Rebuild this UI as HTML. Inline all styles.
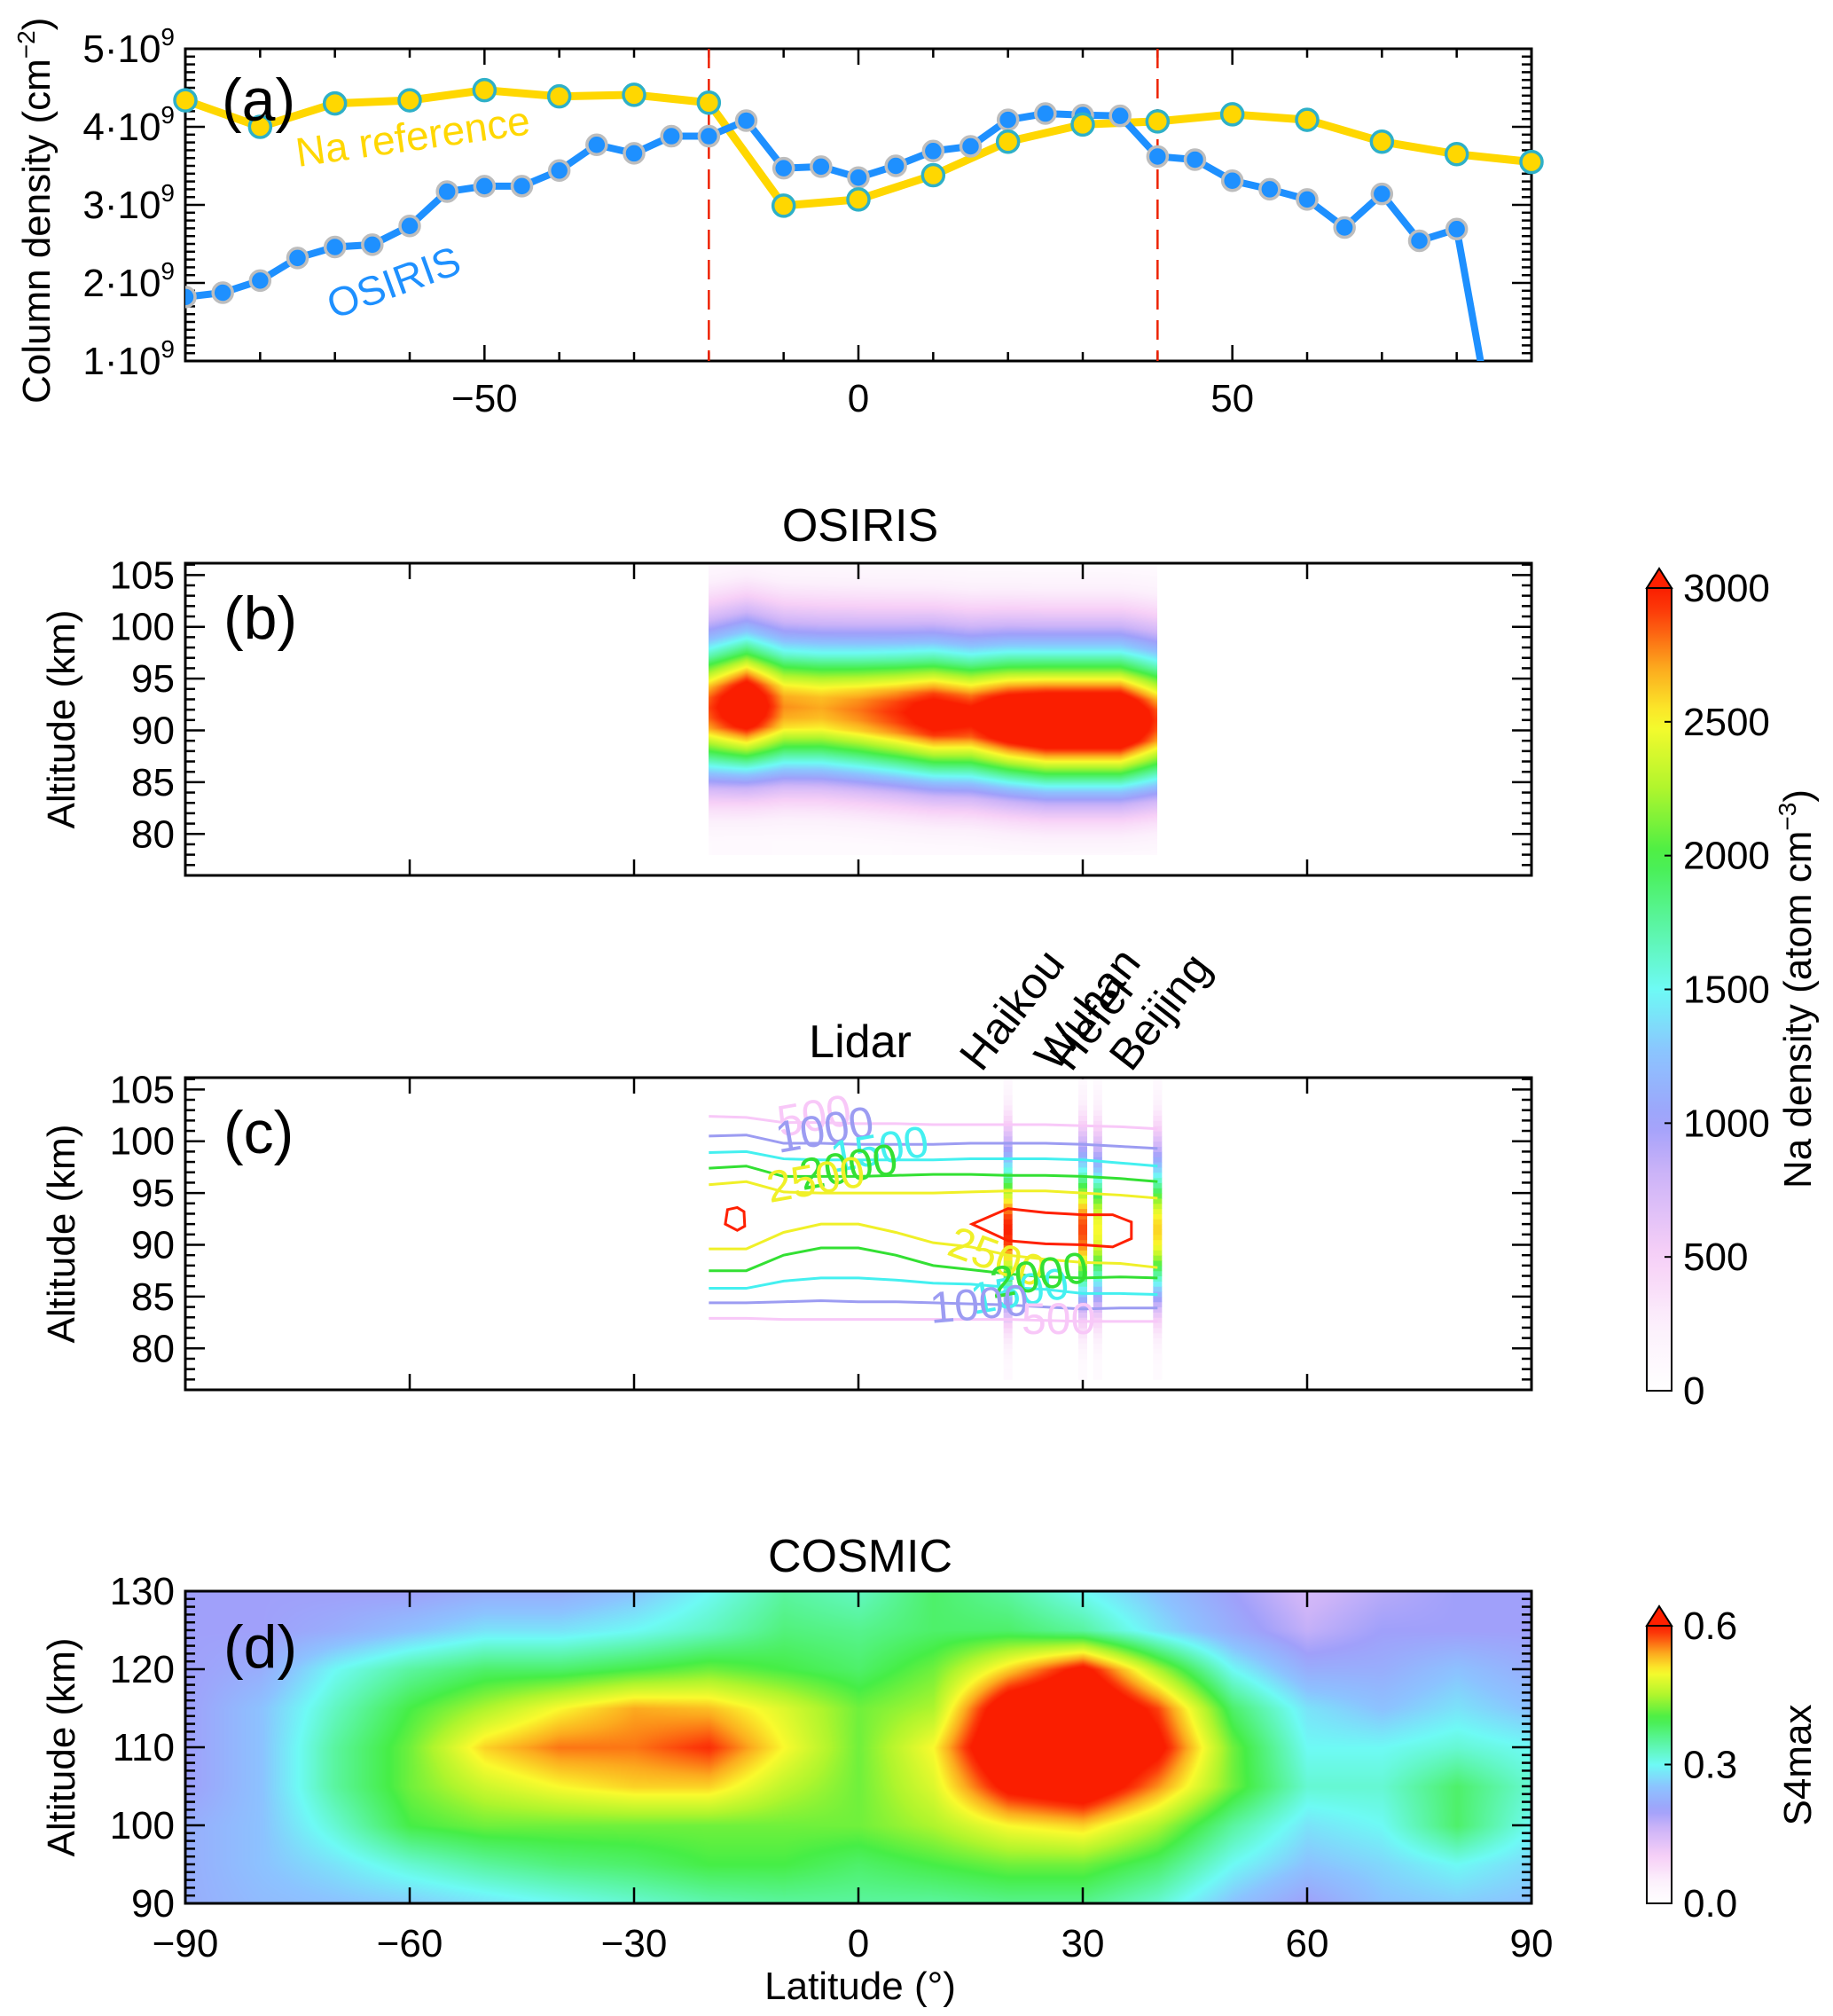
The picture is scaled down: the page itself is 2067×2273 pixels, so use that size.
<!DOCTYPE html>
<html><head><meta charset="utf-8">
<style>
html,body{margin:0;padding:0;background:#fff;}
#wrap{position:relative;width:2067px;height:2273px;overflow:hidden;font-family:"Liberation Sans",sans-serif;}
canvas{position:absolute;}
svg{position:absolute;left:0;top:0;}
</style></head>
<body>
<div id="wrap">
<canvas id="cb"></canvas>
<canvas id="cd"></canvas>
<svg id="s" width="2067" height="2273" xmlns="http://www.w3.org/2000/svg"></svg>
</div>
<script>
// ---------- data ----------
const naLats = [-90,-80,-70,-60,-50,-40,-30,-20,-10,0,10,20,30,40,50,60,70,80,90];
const naRef = [4.34,4.0,4.30,4.34,4.47,4.39,4.41,4.31,2.99,3.07,3.38,3.81,4.03,4.07,4.16,4.09,3.81,3.65,3.55];
const osLats = [-90,-85,-80,-75,-70,-65,-60,-55,-50,-45,-40,-35,-30,-25,-20,-15,-10,-5,0,5,10,15,20,25,30,35,40,45,50,55,60,65,70,75,80];
const osVals = [1.82,1.875,2.03,2.32,2.46,2.49,2.73,3.17,3.24,3.24,3.44,3.77,3.66,3.88,3.88,4.08,3.47,3.49,3.35,3.50,3.69,3.75,4.09,4.17,4.15,4.14,3.62,3.58,3.31,3.20,3.07,2.71,3.14,2.54,2.69];
const osTailLat = 84.5, osTailVal = 0.3;
const aYTicks = [1,2,3,4,5];
const aXTicks = [-50,0,50];
const dashLats = [-20,40];

const bLats = [-20,-15,-10,-5,0,5,10,15,20,25,30,35,40];
const bPeak = [2900,3350,2750,2700,2800,2950,3150,3050,3350,3500,3500,3500,2900];
const bPeakAlt = [92.2,92.5,92.3,92.2,92.0,91.8,91.6,91.4,91.2,91.0,91.0,91.0,91.0];
const shapeAlt = [78,79,80,81,82,83,84,85,86,87,88,89,90,91,92,93,94,95,96,97,98,99,100,101,102,103,104,105,106];
const shapeVal = [0.03,0.05,0.08,0.12,0.18,0.25,0.35,0.47,0.59,0.71,0.82,0.93,0.98,1.0,0.98,0.92,0.82,0.71,0.59,0.49,0.39,0.31,0.24,0.18,0.13,0.09,0.06,0.04,0.02];

const contourLats = [-20,-15,-10,-5,0,5,10,15,20,25,30,35,40];
const cLevels = [500,1000,1500,2000,2500];
const cUpper = [
 [102.4,102.3,101.8,101.8,101.7,101.7,101.6,101.6,101.6,101.6,101.5,101.4,101.2],
 [100.5,100.6,99.8,99.8,99.7,99.7,99.7,99.8,99.8,99.8,99.7,99.5,99.3],
 [98.9,99.0,98.3,98.2,98.2,98.2,98.2,98.3,98.3,98.3,98.2,97.9,97.6],
 [97.4,97.6,96.6,96.6,96.6,96.7,96.8,96.8,96.7,96.7,96.6,96.4,96.1],
 [95.8,96.1,95.1,95.0,95.0,95.0,95.0,95.1,95.2,95.2,95.0,94.8,94.5]];
const cLower = [
 [82.9,82.9,82.8,82.8,82.8,82.8,82.8,82.8,82.8,82.7,82.6,82.6,82.6],
 [84.4,84.4,84.5,84.6,84.5,84.5,84.4,84.3,84.2,84.0,83.8,83.9,83.9],
 [85.8,85.8,86.5,86.8,86.8,86.6,86.3,86.2,85.9,85.7,85.3,85.3,85.2],
 [87.5,87.5,89.0,89.7,89.7,89.0,88.0,87.6,87.2,86.9,86.8,86.9,86.8],
 [89.6,89.6,91.2,92.0,92.0,91.2,90.2,89.8,89.0,88.6,88.3,88.2,87.8]];
const redSmallLat = [-17.5,-16.2,-15.3,-15.2,-16.2,-17.8];
const redSmallAlt = [93.4,93.6,93.2,91.8,91.4,92.0];
const redBigLat = [15.2,20,25,30,34,36.5,36.5,34,30,25,20];
const redBigAlt = [92.0,93.5,93.1,92.9,92.9,92.2,90.6,89.8,90.0,90.1,90.4];
const stations = ["Haikou","Wuhan","Hefei","Beijing"];
const stationLats = [20,30,32,40];
const stationPeak = [3000,2900,2500,2600];

const dLats = [-90,-80,-70,-60,-50,-40,-30,-20,-10,0,10,20,30,40,50,60,70,80,90];
const dAlts = [130,125,120,115,110,105,100,95,90];
const dGrid = [
 [0.2,0.2,0.2,0.2,0.22,0.22,0.25,0.3,0.35,0.33,0.38,0.35,0.3,0.25,0.2,0.15,0.18,0.2,0.2],
 [0.2,0.2,0.22,0.25,0.28,0.28,0.3,0.33,0.37,0.36,0.38,0.38,0.35,0.28,0.22,0.17,0.2,0.2,0.2],
 [0.2,0.22,0.3,0.35,0.38,0.38,0.4,0.42,0.4,0.38,0.42,0.52,0.62,0.45,0.3,0.22,0.22,0.25,0.22],
 [0.2,0.25,0.33,0.4,0.45,0.5,0.54,0.53,0.48,0.42,0.45,0.66,0.7,0.58,0.38,0.28,0.25,0.28,0.25],
 [0.2,0.25,0.35,0.42,0.52,0.56,0.56,0.59,0.5,0.42,0.5,0.7,0.7,0.62,0.42,0.3,0.3,0.32,0.3],
 [0.2,0.25,0.35,0.42,0.47,0.5,0.52,0.52,0.46,0.42,0.48,0.62,0.66,0.55,0.42,0.32,0.32,0.38,0.32],
 [0.22,0.25,0.32,0.4,0.42,0.42,0.42,0.42,0.42,0.42,0.45,0.5,0.52,0.45,0.35,0.28,0.3,0.38,0.3],
 [0.22,0.25,0.28,0.32,0.35,0.37,0.38,0.4,0.4,0.38,0.4,0.42,0.42,0.38,0.3,0.25,0.27,0.3,0.27],
 [0.22,0.24,0.25,0.26,0.28,0.3,0.32,0.34,0.35,0.35,0.35,0.36,0.36,0.32,0.25,0.2,0.25,0.26,0.25]];
const cb1Ticks = [0,500,1000,1500,2000,2500,3000];
const cb2Ticks = ["0.0","0.3","0.6"];

// ---------- geometry ----------
const X0=209,X1=1727;
const P={a:[55,407],b:[635,987],c:[1215,1567],d:[1794,2146]};
const sx=l=>X0+(l+90)/180*(X1-X0);
const syA=v=>P.a[0]+(5-v)/4*(P.a[1]-P.a[0]);
const ZB0=76.0,ZB1=106.14;
const syB=(z,p)=>P[p][1]-(z-ZB0)/(ZB1-ZB0)*(P[p][1]-P[p][0]);
const syD=z=>P.d[1]-(z-90)/40*(P.d[1]-P.d[0]);
const FS=44;

const stops=[[0,255,255,255],[0.08,252,240,252],[0.167,247,208,247],[0.27,205,180,248],[0.333,160,160,250],[0.42,140,195,255],[0.5,110,250,245],[0.583,90,245,160],[0.667,70,238,70],[0.75,175,245,45],[0.833,250,250,45],[0.9,252,170,30],[0.97,252,60,10],[1,250,30,0]];
function cmap(t){t=Math.max(0,Math.min(1,t));for(let i=1;i<stops.length;i++){if(t<=stops[i][0]){const a=stops[i-1],b=stops[i],f=(t-a[0])/(b[0]-a[0]);return [a[1]+f*(b[1]-a[1]),a[2]+f*(b[2]-a[2]),a[3]+f*(b[3]-a[3])];}}return [250,30,0];}
function interp(xs,ys,x){if(x<=xs[0])return ys[0];for(let i=1;i<xs.length;i++){if(x<=xs[i]){const f=(x-xs[i-1])/(xs[i]-xs[i-1]);return ys[i-1]+f*(ys[i]-ys[i-1]);}}return ys[ys.length-1];}
function naDens(lat,z,peak,pz){return peak*interp(shapeAlt,shapeVal,z-pz+91);}

const NS="http://www.w3.org/2000/svg";
const svg=document.getElementById('s');
function el(tag,attrs,parent){const e=document.createElementNS(NS,tag);for(const k in attrs)e.setAttribute(k,attrs[k]);(parent||svg).appendChild(e);return e;}
function txt(str,x,y,size,attrs,parent){const t=el('text',Object.assign({x:x,y:y,'font-size':size,'font-family':'Liberation Sans, sans-serif'},attrs||{}),parent);t.textContent=str;return t;}

// ---------- panel b canvas ----------
(function(){const c=document.getElementById('cb');const x0=Math.round(sx(-20)),x1=Math.round(sx(40));const y0=Math.round(syB(106,'b')),y1=Math.round(syB(78,'b'));
c.width=x1-x0;c.height=y1-y0;c.style.left=x0+'px';c.style.top=y0+'px';const g=c.getContext('2d');const im=g.createImageData(c.width,c.height);
for(let j=0;j<c.height;j++){const z=ZB0+(P.b[1]-(y0+j))/(P.b[1]-P.b[0])*(ZB1-ZB0);for(let i=0;i<c.width;i++){const lat=(x0+i-X0)/(X1-X0)*180-90;const pk=interp(bLats,bPeak,lat),pz=interp(bLats,bPeakAlt,lat);const v=naDens(lat,z,pk,pz);const col=cmap(v/3000);const k=(j*c.width+i)*4;im.data[k]=col[0];im.data[k+1]=col[1];im.data[k+2]=col[2];im.data[k+3]=255;}}
g.putImageData(im,0,0);})();
// ---------- panel d canvas ----------
(function(){const c=document.getElementById('cd');c.width=X1-X0;c.height=P.d[1]-P.d[0];c.style.left=X0+'px';c.style.top=P.d[0]+'px';const g=c.getContext('2d');const im=g.createImageData(c.width,c.height);
const altsAsc=dAlts.slice().reverse();
for(let j=0;j<c.height;j++){const z=130-j/c.height*40;for(let i=0;i<c.width;i++){const lat=i/c.width*180-90;const col2=altsAsc.map((a,r)=>interp(dLats,dGrid[dAlts.length-1-r],lat));const v=interp(altsAsc,col2,z);const col=cmap(v/0.6);const k=(j*c.width+i)*4;im.data[k]=col[0];im.data[k+1]=col[1];im.data[k+2]=col[2];im.data[k+3]=255;}}
g.putImageData(im,0,0);})();

// ---------- axes helpers ----------
function frame(p,name){const [t,b]=P[p];el('rect',{x:X0,y:t,width:X1-X0,height:b-t,fill:'none',stroke:'#000','stroke-width':3,});}
function yTicks(p,toY,min,max,minor,major,labels,fmt){const [t,b]=P[p];const g=el('g',{});
for(let v=min;v<=max+1e-9;v+=minor){const y=toY(v);if(y<t-1||y>b+1)continue;const isM=Math.abs(v/major-Math.round(v/major))<1e-6;const L=isM?22:11;el('line',{x1:X0,y1:y,x2:X0+L,y2:y,stroke:'#000','stroke-width':2.5},g);el('line',{x1:X1,y1:y,x2:X1-L,y2:y,stroke:'#000','stroke-width':2.5},g);}
labels.forEach(v=>{const t2=txt(fmt?'':String(v),197,toY(v)+15,FS,{'text-anchor':'end'},g);if(fmt)fmt(t2,v);});}
function xTicks(p,step,major,labels,ly){const [t,b]=P[p];const g=el('g',{});
for(let l=-90;l<=90;l+=step){const x=sx(l);const isM=major.includes(l);const L=isM?18:10;el('line',{x1:x,y1:b,x2:x,y2:b-L,stroke:'#000','stroke-width':2.5},g);el('line',{x1:x,y1:t,x2:x,y2:t+L,stroke:'#000','stroke-width':2.5},g);}
if(labels)labels.forEach(l=>txt(String(l).replace('-','\u2212'),sx(l),ly,FS,{'text-anchor':'middle'},g));}

// ---------- panel a ----------
frame('a','panel-a');
const sup=(t,v)=>{t.textContent='';const a=el('tspan',{},t);a.textContent=v+'\u00b710';const s=el('tspan',{'font-size':28,dy:-19},t);s.textContent='9';};
yTicks('a',syA,1,5,0.1,1,aYTicks,sup);
xTicks('a',10,aXTicks,aXTicks,464);
dashLats.forEach(l=>{const d=el('line',{x1:sx(l),y1:P.a[0],x2:sx(l),y2:P.a[1],stroke:'#ee2200','stroke-width':2.5,'stroke-dasharray':'22,12'});});
const cp=el('clipPath',{id:'clipA'});el('rect',{x:X0,y:P.a[0],width:X1-X0,height:P.a[1]-P.a[0]},cp);
const gy=el('g',{});
el('polyline',{points:naLats.map((l,i)=>sx(l)+','+syA(naRef[i])).join(' '),fill:'none',stroke:'#ffd700','stroke-width':9},gy);
const gb=el('g',{'clip-path':'url(#clipA)'});
el('polyline',{points:osLats.map((l,i)=>sx(l)+','+syA(osVals[i])).join(' ')+' '+sx(osTailLat)+','+syA(osTailVal),fill:'none',stroke:'#1e90ff','stroke-width':8},gb);
osLats.forEach((l,i)=>{const c=el('circle',{cx:sx(l),cy:syA(osVals[i]),r:11,fill:'#1e90ff',stroke:'#bdbdbd','stroke-width':3.5},gb);});
naLats.forEach((l,i)=>{const c=el('circle',{cx:sx(l),cy:syA(naRef[i]),r:12,fill:'#ffd700',stroke:'#2eb0c8','stroke-width':3.5});});
txt('(a)',250,136,68,{});
txt('Na reference',336,188,46,{fill:'#ffd700',transform:'rotate(-8 336 188)',});
txt('OSIRIS',376,360,46,{fill:'#1e90ff',transform:'rotate(-20 376 360)',});
txt('',56,455,44,{transform:'rotate(-90 56 455)',}).innerHTML='Column density (cm<tspan font-size="28" dy="-17">\u22122</tspan><tspan dy="17">)</tspan>';

// ---------- panel b ----------
frame('b','panel-b');
const altLab=[80,85,90,95,100,105];
yTicks('b',z=>syB(z,'b'),76,106,1,5,altLab);
xTicks('b',30,[-90,-60,-30,0,30,60,90],null);
txt('OSIRIS',970,610,52,{'text-anchor':'middle',});
txt('(b)',252,720,68,{});
txt('Altitude (km)',84,811,44,{'text-anchor':'middle',transform:'rotate(-90 84 811)',});

// ---------- panel c ----------
frame('c','panel-c');
yTicks('c',z=>syB(z,'c'),76,106,1,5,altLab);
xTicks('c',30,[-90,-60,-30,0,30,60,90],null);
txt('Lidar',970,1192,52,{'text-anchor':'middle',});
txt('(c)',252,1300,68,{});
txt('Altitude (km)',84,1391,44,{'text-anchor':'middle',transform:'rotate(-90 84 1391)',});
stationLats.forEach((l,si)=>{const g=el('g',{});
for(let z=77;z<106;z+=0.5){const v=naDens(l,z+0.25,stationPeak[si],91.5);const c=cmap(v/3000);el('rect',{x:sx(l)-5,y:syB(z+0.5,'c'),width:10,height:syB(z,'c')-syB(z+0.5,'c')+0.5,fill:'rgb('+c.map(Math.round).join(',')+')'},g);}
const lx=sx(l)-30,ly=1210;const t=txt(stations[si],lx,ly,50,{transform:'rotate(-52 '+lx+' '+ly+')'});});
const lvlCol=['#f8c8f8','#9c9cf2','#44f0f0','#33e033','#f0f028'];
cLevels.forEach((lv,k)=>{[cUpper[k],cLower[k]].forEach((arr,side)=>{const p=el('polyline',{points:contourLats.map((l,i)=>sx(l)+','+syB(arr[i],'c')).join(' '),fill:'none',stroke:lvlCol[k],'stroke-width':3});});});
[[redSmallLat,redSmallAlt],[redBigLat,redBigAlt]].forEach((pr,k)=>{const p=el('polygon',{points:pr[0].map((l,i)=>sx(l)+','+syB(pr[1][i],'c')).join(' '),fill:'none',stroke:'#ff2000','stroke-width':3});});
const cl=[['500',880,1282,'#f8c8f8',-10],['1000',878,1300,'#9c9cf2',-10],['1500',940,1322,'#44f0f0',-10],['2000',905,1342,'#33e033',-10],['2500',868,1356,'#f0f028',-10],
 ['2500',1066,1414,'#f0f028',20],['1500',1098,1482,'#44f0f0',-10],['2000',1120,1464,'#33e033',-10],['1000',1050,1492,'#9c9cf2',-5],['500',1152,1504,'#f8c8f8',0]];
cl.forEach(c=>{const t=txt(c[0],c[1],c[2],50,{fill:c[3],transform:'rotate('+c[4]+' '+c[1]+' '+c[2]+')'});});

// ---------- panel d ----------
frame('d','panel-d');
yTicks('d',syD,90,130,1,10,[90,100,110,120,130]);
xTicks('d',30,[-90,-60,-30,0,30,60,90],[-90,-60,-30,0,30,60,90],2206);
txt('COSMIC',970,1772,52,{'text-anchor':'middle',});
txt('(d)',252,1880,68,{});
txt('Altitude (km)',84,1970,44,{'text-anchor':'middle',transform:'rotate(-90 84 1970)',});
txt('Latitude (\u00b0)',970,2254,44,{'text-anchor':'middle',});

// ---------- colorbars ----------
const defs=el('defs',{});const gr=el('linearGradient',{id:'cg',x1:0,y1:1,x2:0,y2:0},defs);
for(let i=0;i<=40;i++){const c=cmap(i/40);el('stop',{offset:i/40,'stop-color':'rgb('+c.map(Math.round).join(',')+')'},gr);}
function colorbar(name,top,bot,ticks,tickLabel,title,ty){const g=el('g',{});const x0=1857,x1=1885;
el('rect',{x:x0,y:top,width:x1-x0,height:bot-top,fill:'url(#cg)',stroke:'#000','stroke-width':2},g);
el('polygon',{points:x0+','+top+' '+x1+','+top+' '+((x0+x1)/2)+','+(top-22),fill:'#ff2000',stroke:'#000','stroke-width':2},g);
ticks.forEach((v,i)=>{const y=bot-i/(ticks.length-1)*(bot-top);el('line',{x1:x1-8,y1:y,x2:x1,y2:y,stroke:'#000','stroke-width':2},g);txt(tickLabel(v),1898,y+15,FS,{},g);});
const t=txt(title,2042,ty,44,{'text-anchor':'middle',transform:'rotate(-90 2042 '+ty+')'},g);return t;}
const t1=colorbar('na-density-colorbar',663,1568,cb1Ticks,v=>String(v),'',1115);t1.innerHTML='Na density (atom cm<tspan font-size="28" dy="-17">\u22123</tspan><tspan dy="17">)</tspan>';
colorbar('s4max-colorbar',1833,2146,cb2Ticks,v=>v,'S4max',1990);
</script>
</body></html>
